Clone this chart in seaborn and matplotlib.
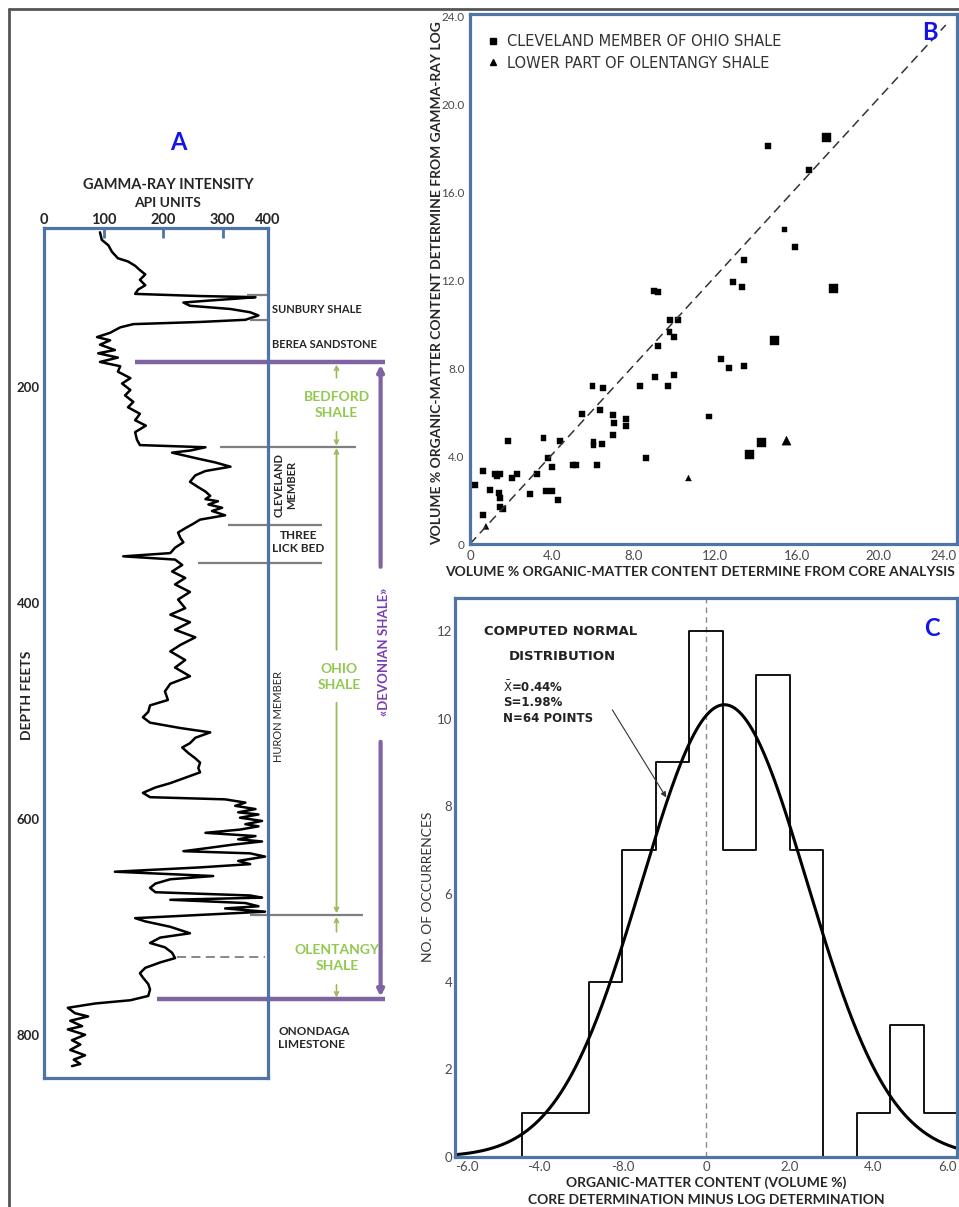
import numpy as np
import pandas as pd
import matplotlib
matplotlib.use("Agg")
import matplotlib.pyplot as plt
from matplotlib.lines import Line2D
import seaborn as sns

# ---------------- Panel A : gamma-ray log (depth in feet, API units) ----------------
log_depth = [57, 64, 69, 75, 81, 84, 88, 92, 96, 101,
             106, 110, 114, 116, 117, 118.5, 120, 122, 125, 128,
             131, 134, 138, 140, 142, 145, 150, 154, 157, 161,
             166, 169, 173, 177, 181, 186, 192, 197, 203, 208,
             214, 219, 225, 231, 236, 242, 249, 254, 256, 259,
             261, 266, 270, 274, 278, 282, 288, 293, 297, 301,
             304, 306, 309, 312, 315, 319, 323, 327, 331, 335,
             340, 344, 349, 354, 357, 360, 365, 371, 377, 383,
             390, 397, 405, 411, 418, 425, 432, 439, 445, 453,
             460, 468, 475, 482, 490, 495, 501, 506, 511, 516,
             520, 525, 530, 534, 539, 544, 548, 553, 557, 562,
             567, 571, 576, 580, 582, 585, 588, 591, 594, 596,
             599, 602, 605, 607, 610, 613, 616, 619, 621, 624,
             627, 630, 632, 635, 639, 642, 645, 649, 653, 656,
             660, 664, 668, 671, 673, 675, 678, 681, 683, 686,
             689, 692, 695, 700, 706, 710, 715, 719, 724, 729,
             733, 738, 743, 747, 753, 758, 764, 768, 771, 775,
             780, 783, 787, 792, 795, 800, 805, 809, 814, 819,
             823, 827, 829]
log_api = [94, 97, 108, 114, 124, 141, 153, 161, 170, 161,
           170, 158, 153, 262, 355, 321, 282, 234, 245, 313,
           346, 360, 338, 262, 150, 128, 111, 89, 111, 94,
           119, 91, 124, 94, 128, 124, 145, 131, 145, 136,
           150, 141, 161, 153, 171, 153, 156, 161, 271, 246,
           215, 254, 287, 313, 271, 254, 245, 259, 271, 279,
           271, 292, 276, 299, 282, 304, 262, 250, 237, 225,
           229, 234, 220, 212, 133, 220, 232, 215, 237, 220,
           245, 225, 237, 212, 245, 220, 254, 229, 212, 237,
           220, 245, 212, 203, 208, 178, 175, 166, 178, 229,
           279, 254, 245, 232, 242, 254, 262, 259, 262, 237,
           212, 187, 166, 178, 304, 338, 321, 355, 326, 360,
           329, 366, 338, 360, 329, 271, 355, 326, 366, 316,
           276, 234, 346, 371, 326, 346, 262, 119, 284, 212,
           187, 178, 187, 346, 366, 212, 338, 360, 304, 371,
           262, 153, 170, 212, 245, 195, 178, 203, 215, 220,
           195, 170, 161, 166, 175, 178, 175, 145, 86, 40,
           52, 74, 44, 64, 40, 69, 47, 61, 44, 69,
           50, 61, 47]
a_api_ticks = [0, 100, 200, 300, 376]
a_api_labels = ["0", "100", "200", "300", "400"]
a_depth_ticks = [100, 200, 300, 400, 500, 600, 700, 800]
a_depth_labels = ["", "200", "", "400", "", "600", "", "800"]

# formation boundaries (depth, ft)
sunbury_top, sunbury_base = 115, 138
devonian_top, devonian_base = 177, 767
bedford_base = 255.5
cleveland_base, three_lick_base = 328, 363
huron_base, olentangy_dash = 689, 728

# ---------------- Panel B : core vs log organic matter ----------------
cle_x = [0.25, 0.62, 0.62, 0.98, 1.23, 1.34, 1.47, 1.44, 1.47, 1.47, 1.63, 1.88, 2.04, 2.3,
         2.94, 3.3, 3.6, 3.8, 3.73, 4.0, 4.0, 4.3, 4.4, 5.03, 5.2, 5.5, 6.0, 6.5, 6.05, 6.05,
         6.45, 6.2, 6.37, 7.0, 7.07, 7.0, 7.65, 7.63, 8.33, 8.6, 9.0, 9.2, 9.07, 9.2, 9.7,
         9.8, 10.2, 9.77, 10.0, 9.97, 11.7, 12.3, 12.7, 13.4, 12.9, 13.3, 13.4, 14.6, 16.6,
         15.4, 15.9]
cle_y = [2.7, 3.3, 1.3, 2.45, 3.2, 3.1, 3.2, 2.3, 2.1, 1.67, 1.6, 4.7, 3.0, 3.2,
         2.26, 3.2, 4.8, 3.9, 2.4, 2.4, 3.5, 2.0, 4.7, 3.6, 3.6, 5.9, 7.2, 7.1, 4.65, 4.5,
         4.56, 3.6, 6.1, 5.85, 5.5, 4.97, 5.7, 5.35, 7.2, 3.9, 11.5, 11.45, 7.6, 9.0, 7.2,
         10.2, 10.2, 9.65, 9.4, 7.7, 5.8, 8.4, 8.0, 8.1, 11.9, 11.7, 12.9, 18.1, 17.0,
         14.3, 13.5]
cle_big_x = [13.7, 14.3, 14.9, 17.45, 17.8]
cle_big_y = [4.05, 4.6, 9.25, 18.5, 11.6]
ole_x = [0.78, 10.7, 15.5]
ole_y = [0.8, 3.0, 4.7]
ole_big = [False, False, True]
fit_x = [0.0, 23.3]
fit_y = [0.0, 23.6]
b_ticks = [0, 4, 8, 12, 16, 20, 24]
b_labels = ["0", "4.0", "8.0", "12.0", "16.0", "20.0", "24.0"]
lab_cle = "CLEVELAND MEMBER OF OHIO SHALE"
lab_ole = "LOWER PART OF OLENTANGY SHALE"

# ---------------- Panel C : histogram of differences ----------------
hist_edges = [-4.4, -3.6, -2.8, -2.0, -1.2, -0.4, 0.4, 1.2, 2.0, 2.8, 3.6, 4.4, 5.2, 6.0]
hist_counts = [1, 1, 4, 7, 9, 12, 7, 11, 7, 0, 1, 3, 1]
norm_mean, norm_sd, norm_n = 0.44, 1.98, 64
c_xticks = [-6, -5, -4, -3, -2, -1, 0, 1, 2, 3, 4, 5, 6]
c_xlabels = ["-6.0", "", "-4.0", "", "-8.0", "", "0", "", "2.0", "", "4.0", "", "6.0"]
c_yticks = list(range(0, 13))
c_ylabels = ["0", "", "2", "", "4", "", "6", "", "8", "", "10", "", "12"]

# ---------------- styling ----------------
sns.set_style("white")
plt.rcParams["font.family"] = ["Lato", "DejaVu Sans"]

W, H = 959, 1207
fig = plt.figure(figsize=(W / 100, H / 100), dpi=100)
fig.patch.set_facecolor("white")


def fx(x):
    return x / W


def fy(y):
    return 1 - y / H


def box(l, t, r, b):
    return [l / W, 1 - b / H, (r - l) / W, (b - t) / H]


SPINE = "#4f74a8"
GREEN_T = "#92c84e"
GREEN_L = "#9bbb59"
PURPLE_L = "#8064a2"
PURPLE_T = "#7a3fb0"
GRAY_L = "#7f7f7f"
LETTER = "#1414e6"
TXT = "#262626"
TICKTXT = "#4a4a4a"


def style_spines(ax):
    for s in ax.spines.values():
        s.set_visible(True)
        s.set_color(SPINE)
        s.set_linewidth(2.3)


# outer frame
fig.add_artist(Line2D([fx(9), fx(959)], [fy(9), fy(9)], transform=fig.transFigure, color="#555555", lw=2))
fig.add_artist(Line2D([fx(9), fx(9)], [fy(9), fy(1207)], transform=fig.transFigure, color="#555555", lw=2))

# ===================== Panel A =====================
axA = fig.add_axes(box(44, 228, 268, 1078))
sns.lineplot(x=log_api, y=log_depth, sort=False, estimator=None, color="black",
             linewidth=1.8, ax=axA)
axA.set_xlim(0, 376)
axA.set_ylim(840, 53)
axA.xaxis.tick_top()
axA.set_xticks(a_api_ticks)
axA.set_xticklabels(a_api_labels)
axA.set_yticks(a_depth_ticks)
axA.set_yticklabels(a_depth_labels)
axA.tick_params(axis="both", direction="in", color=SPINE, width=2, length=7, labelcolor=TXT)
axA.tick_params(axis="x", labelsize=10.5, pad=1)
axA.tick_params(axis="y", labelsize=9.5, pad=3)
for t in axA.get_xticklabels() + axA.get_yticklabels():
    t.set_fontweight("bold")
axA.set_xlabel("")
axA.set_ylabel("")
style_spines(axA)


def seg(ax, x0, x1, d, **kw):
    ax.plot([x0, x1], [d, d], clip_on=False, solid_capstyle="butt", **kw)


def arrow(ax, x, d_from, d_to, color, lw, style, ms):
    ax.annotate("", xy=(x, d_to), xytext=(x, d_from),
                arrowprops=dict(arrowstyle=style, color=color, lw=lw, mutation_scale=ms,
                                shrinkA=0, shrinkB=0),
                annotation_clip=False)


seg(axA, 341, 376, sunbury_top, color=GRAY_L, lw=1.6)
seg(axA, 346, 376, sunbury_base, color=GRAY_L, lw=1.6)
seg(axA, 296, 523, bedford_base, color=GRAY_L, lw=1.6)
seg(axA, 309, 467, cleveland_base, color=GRAY_L, lw=1.6)
seg(axA, 259, 467, three_lick_base, color=GRAY_L, lw=1.6)
seg(axA, 346, 536, huron_base, color=GRAY_L, lw=1.6)
seg(axA, 224, 371, olentangy_dash, color=GRAY_L, lw=1.3, ls=(0, (5, 3)))
seg(axA, 153, 572, devonian_top, color=PURPLE_L, lw=3.2)
seg(axA, 190, 572, devonian_base, color=PURPLE_L, lw=3.2)

gx = 491
arrow(axA, gx, 191.7, 179.5, GREEN_L, 1.2, "->", 7)
arrow(axA, gx, 241.7, 254.6, GREEN_L, 1.2, "->", 7)
arrow(axA, gx, 443.5, 256.8, GREEN_L, 1.3, "->", 7)
arrow(axA, gx, 492.6, 687.5, GREEN_L, 1.3, "->", 7)
arrow(axA, gx, 704.6, 690.8, GREEN_L, 1.2, "->", 7)
arrow(axA, gx, 753.7, 765.5, GREEN_L, 1.2, "->", 7)
px_ = 565
arrow(axA, px_, 366.7, 179.6, PURPLE_L, 3, "-|>", 9)
arrow(axA, px_, 528.7, 764.8, PURPLE_L, 3, "-|>", 9)

axA.text(383, 128, "SUNBURY SHALE", fontsize=8, fontweight="bold", color=TXT, ha="left", va="center")
axA.text(383, 161, "BEREA SANDSTONE", fontsize=8, fontweight="bold", color=TXT, ha="left", va="center")
axA.text(gx, 216.7, "BEDFORD\nSHALE", fontsize=10, fontweight="bold", color=GREEN_T,
         ha="center", va="center", linespacing=1.35)
axA.text(405, 291, "CLEVELAND\nMEMBER", rotation=90, fontsize=8, fontweight="bold", color=TXT,
         ha="center", va="center", linespacing=1.1)
axA.text(427, 344, "THREE\nLICK BED", fontsize=8.5, fontweight="bold", color=TXT,
         ha="center", va="center", linespacing=1.25)
axA.text(496, 468.5, "OHIO\nSHALE", fontsize=10, fontweight="bold", color=GREEN_T,
         ha="center", va="center", linespacing=1.35)
axA.text(393, 505.6, "HURON MEMBER", rotation=90, fontsize=8, color=TXT, ha="center", va="center")
axA.text(570, 445, "\u00abDEVONIAN SHALE\u00bb", rotation=90, fontsize=9.5, fontweight="bold",
         color=PURPLE_T, ha="center", va="center")
axA.text(492, 728.7, "OLENTANGY\nSHALE", fontsize=10, fontweight="bold", color=GREEN_T,
         ha="center", va="center", linespacing=1.35)
axA.text(393, 803, "ONONDAGA\nLIMESTONE", fontsize=8.5, fontweight="bold", color=TXT,
         ha="left", va="center", linespacing=1.3)

fig.text(fx(27), fy(695), "DEPTH FEETS", rotation=90, fontsize=10, fontweight="bold",
         color=TXT, ha="center", va="center")
fig.text(fx(168), fy(185), "GAMMA-RAY INTENSITY", fontsize=10.5, fontweight="bold",
         color=TXT, ha="center", va="center")
fig.text(fx(168), fy(203), "API UNITS", fontsize=10, fontweight="bold",
         color=TXT, ha="center", va="center")
fig.text(fx(178), fy(143), "A", fontsize=17, fontweight="bold", color=LETTER, ha="center", va="center")

# ===================== Panel B =====================
axB = fig.add_axes(box(470, 14, 957, 544))
df_b = pd.DataFrame({
    "core": cle_x + cle_big_x + ole_x,
    "log": cle_y + cle_big_y + ole_y,
    "unit": [lab_cle] * (len(cle_x) + len(cle_big_x)) + [lab_ole] * len(ole_x),
    "kind": ["small"] * len(cle_x) + ["big"] * len(cle_big_x)
            + ["big" if b else "small" for b in ole_big],
})
sns.scatterplot(data=df_b, x="core", y="log", style="unit",
                markers={lab_cle: "s", lab_ole: "^"}, size="kind",
                sizes={"small": 18, "big": 42}, color="black", edgecolor="black",
                linewidth=0.3, legend=False, ax=axB)
sns.lineplot(x=fit_x, y=fit_y, color="#333333", linewidth=1.1, ax=axB)
axB.lines[-1].set_linestyle((0, (6, 3.5)))
axB.set_xlim(0, 23.85)
axB.set_ylim(0, 24.1)
axB.set_xticks(b_ticks[:-1] + [23.85])
axB.set_xticklabels(b_labels)
axB.set_yticks(b_ticks)
axB.set_yticklabels(b_labels)
axB.tick_params(axis="x", direction="in", color=SPINE, width=1.8, length=6, labelsize=9.5,
                labelcolor=TICKTXT, pad=4)
axB.tick_params(axis="y", direction="out", color="#777777", width=1, length=3, labelsize=8.5,
                labelcolor=TICKTXT, pad=1)
axB.get_xticklabels()[-1].set_horizontalalignment("right")
axB.set_xlabel("")
axB.set_ylabel("")
style_spines(axB)
handles = [Line2D([], [], marker="s", color="black", ls="", markersize=4),
           Line2D([], [], marker="^", color="black", ls="", markersize=4)]
axB.legend(handles, [lab_cle, lab_ole], loc="upper left", bbox_to_anchor=(fx(487), fy(34)),
           bbox_transform=fig.transFigure, frameon=False,
           prop=dict(family="DejaVu Sans", size=10.5), labelcolor="#333333",
           handlelength=0.8, handletextpad=0.55, labelspacing=0.45, borderaxespad=0,
           borderpad=0)
fig.text(fx(700), fy(572), "VOLUME % ORGANIC-MATTER CONTENT DETERMINE FROM CORE ANALYSIS",
         fontsize=10, fontweight="bold", color=TXT, ha="center", va="center")
fig.text(fx(437), fy(283), "VOLUME % ORGANIC-MATTER CONTENT DETERMINE FROM GAMMA-RAY LOG",
         rotation=90, fontsize=10, fontweight="bold", color=TXT, ha="center", va="center")
fig.text(fx(930), fy(33), "B", fontsize=17, fontweight="bold", color=LETTER, ha="center", va="center")

# ===================== Panel C =====================
axC = fig.add_axes(box(455, 598, 957, 1157))
edges = np.array(hist_edges)
centers = (edges[:-1] + edges[1:]) / 2
sns.histplot(x=centers, weights=hist_counts, bins=hist_edges, element="step", fill=False,
             color="black", linewidth=1.3, ax=axC)
axC.vlines([hist_edges[0]], 0, hist_counts[0], color="black", lw=1.3)
bw = edges[1] - edges[0]
grid = np.linspace(-6, 6, 400)
curve = norm_n * bw / (norm_sd * np.sqrt(2 * np.pi)) * np.exp(-0.5 * ((grid - norm_mean) / norm_sd) ** 2)
sns.lineplot(x=grid, y=curve, color="black", linewidth=2.2, ax=axC)
axC.axvline(0, color="#8a8a8a", lw=1, ls=(0, (4, 3)), zorder=0)
axC.set_xlim(-6, 6)
axC.set_ylim(0, 12.75)
axC.set_xticks(c_xticks)
axC.set_xticklabels(c_xlabels)
axC.set_yticks(c_yticks)
axC.set_yticklabels(c_ylabels)
axC.tick_params(axis="x", direction="in", color=SPINE, width=1.8, length=8, labelsize=9.5,
                labelcolor=TICKTXT, pad=3)
axC.tick_params(axis="y", direction="in", color=SPINE, width=2, length=13, labelsize=9.5,
                labelcolor=TICKTXT, pad=2)
axC.get_xticklabels()[0].set_horizontalalignment("left")
axC.get_xticklabels()[-1].set_horizontalalignment("right")
axC.set_xlabel("")
axC.set_ylabel("")
style_spines(axC)

ann = dict(family="DejaVu Sans", fontweight="bold", color="#222222", ha="left", va="center")
fig.text(fx(484), fy(632), "COMPUTED NORMAL", fontsize=9.5, **ann)
fig.text(fx(509), fy(657), "DISTRIBUTION", fontsize=9.5, **ann)
fig.text(fx(503), fy(687), r"$\bar{\mathrm{X}}$=0.44%", fontsize=8.5, **ann)
fig.text(fx(503), fy(703), "S=1.98%", fontsize=8.5, **ann)
fig.text(fx(503), fy(718), "N=64 POINTS", fontsize=8.5, **ann)
axC.annotate("", xy=(-0.95, 8.2), xytext=(-2.24, 10.2),
             arrowprops=dict(arrowstyle="-|>", color="#333333", lw=0.8, mutation_scale=8,
                             shrinkA=0, shrinkB=0))
fig.text(fx(706), fy(1183), "ORGANIC-MATTER CONTENT (VOLUME %)", fontsize=10, fontweight="bold",
         color=TXT, ha="center", va="center")
fig.text(fx(706), fy(1200), "CORE DETERMINATION MINUS LOG DETERMINATION", fontsize=10,
         fontweight="bold", color=TXT, ha="center", va="center")
fig.text(fx(428), fy(887), "NO. OF OCCURRENCES", rotation=90, fontsize=10, color="#333333",
         ha="center", va="center")
fig.text(fx(932), fy(628), "C", fontsize=17, fontweight="bold", color=LETTER, ha="center", va="center")

fig.savefig("out.png", dpi=100, facecolor="white")
